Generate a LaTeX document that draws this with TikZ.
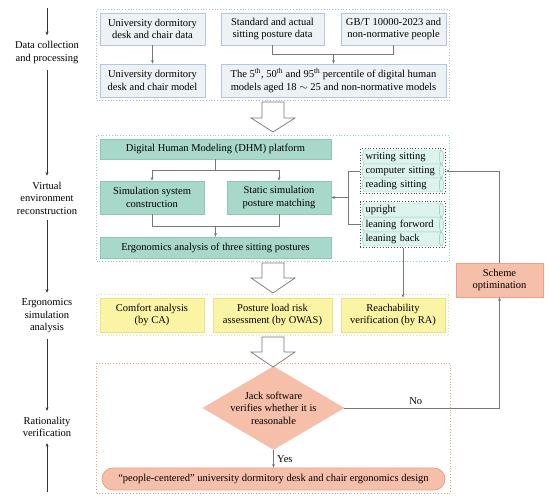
\documentclass[tikz,border=0pt]{standalone}
\usepackage{fontspec}
\setmainfont{Liberation Serif}
\usetikzlibrary{arrows.meta, shapes.geometric, fit}

\definecolor{datafill}{RGB}{237,242,245}
\definecolor{dataline}{RGB}{180,198,231}
\definecolor{datagroup}{RGB}{170,184,216}
\definecolor{tealfill}{RGB}{168,216,201}
\definecolor{tealline}{RGB}{140,200,182}
\definecolor{tealgroup}{RGB}{148,211,193}
\definecolor{itemfill}{RGB}{221,244,238}
\definecolor{itemline}{RGB}{127,199,179}
\definecolor{yellowfill}{RGB}{250,244,164}
\definecolor{yellowline}{RGB}{237,226,140}
\definecolor{salmonfill}{RGB}{245,191,170}
\definecolor{salmonline}{RGB}{237,160,133}
\definecolor{linkgray}{RGB}{120,120,120}

\tikzset{
	databox/.style={draw=dataline, fill=datafill, line width=0.8pt, align=center, inner sep=0pt},
	tealbox/.style={draw=tealline, fill=tealfill, line width=0.8pt, align=center, inner sep=0pt},
	yellowbox/.style={draw=yellowline, fill=yellowfill, line width=0.8pt, align=center, inner sep=0pt},
	salmonbox/.style={draw=salmonline, fill=salmonfill, line width=0.8pt, align=center, inner sep=0pt},
	itembox/.style={cylinder, shape border rotate=0, aspect=0.4, draw=itemline, fill=itemfill,
		minimum height=81, minimum width=14, inner sep=0.5pt, text width=72pt, align=left},
	group/.style={draw=#1, dotted, line width=0.8pt, inner sep=3pt},
	stage/.style={align=center, inner sep=6pt},
	link/.style={draw=linkgray, line width=0.8pt},
	flow/.style={link, -{Stealth[length=3.5pt, width=3pt]}},
	timeline/.style={draw=black!80, line width=0.6pt, -{Stealth[length=3.5pt, width=3pt]}}
}

\begin{document}
\begin{tikzpicture}[x=1pt, y=-1pt, font=\fontsize{10.5}{12.5}\selectfont]
	\useasboundingbox (0,0) rectangle (550,497);

	% stages on the left
	\node[stage] (stage1) at (47,52.5) {Data collection\\and processing};
	\node[stage] (stage2) at (47,198) {Virtual\\environment\\reconstruction};
	\node[stage] (stage3) at (47,316) {Ergonomics\\simulation\\analysis};
	\node[stage] (stage4) at (47,427) {Rationality\\verification};
	\coordinate (start) at (47,8);
	\coordinate (end) at (47,492);
	\draw[timeline] (start) -- (stage1);
	\foreach \from/\to in {stage1/stage2, stage2/stage3, stage3/stage4}
		\draw[timeline] (\from) -- (\to);
	\draw[timeline] (end) -- (stage4);

	% data collection
	\node[databox, minimum width=105, minimum height=32] (deskdata) at (152.5,29) {University dormitory\\desk and chair data};
	\node[databox, minimum width=103, minimum height=32] (posturedata) at (272.5,29) {Standard and actual\\sitting posture data};
	\node[databox, minimum width=105, minimum height=32] (standard) at (393.5,29) {GB/T 10000-2023 and\\non-normative people};
	\node[databox, minimum width=105, minimum height=33] (deskmodel) at (152.5,80.5) {University dormitory\\desk and chair model};
	\node[databox, minimum width=225, minimum height=33] (humanmodel) at (333.5,80.5)
		{The 5\textsuperscript{th}, 50\textsuperscript{th} and 95\textsuperscript{th} percentile of digital human\\models aged 18 $\sim$ 25 and non-normative models};
	\node[group=datagroup, fit=(deskdata)(standard)(deskmodel)(humanmodel)] (datagrp) {};

	\draw[flow] (deskdata) -- (deskmodel);
	\draw[link] (posturedata.south) -- ++(0,9) coordinate (pd) -| (standard.south);
	\draw[flow] (pd -| humanmodel.north) -- (humanmodel.north);

	% virtual environment
	\node[tealbox, minimum width=231, minimum height=20] (dhm) at (215.5,149) {Digital Human Modeling (DHM) platform};
	\node[tealbox, minimum width=104, minimum height=33] (simsys) at (152,197.5) {Simulation system\\construction};
	\node[tealbox, minimum width=104, minimum height=33] (static) at (279,197.5) {Static simulation\\posture matching};
	\node[tealbox, minimum width=231, minimum height=21] (ergo) at (215.5,247.5) {Ergonomics analysis of three sitting postures};

	\foreach \name/\y/\label in {%
		write/157/writing sitting,
		computer/171/computer sitting,
		read/185/reading sitting,
		upright/210/upright,
		forward/224.5/leaning forword,
		back/239/leaning back%
	}{
		\node[itembox] (\name) at (401.5,\y) {\label};
	}
	\node[group=black!70, inner xsep=2pt, inner ysep=1pt, fit=(write)(read)] (sitgrp) {};
	\node[group=black!70, inner xsep=2pt, inner ysep=1pt, fit=(upright)(back)] (leangrp) {};
	\node[group=tealgroup, fit=(dhm)(ergo)(sitgrp)(leangrp)] (virtgrp) {};

	\draw[flow] (dhm.south) -- ++(0,11) coordinate (dh) -| (simsys.north);
	\draw[flow] (dh) -| (static.north);
	\draw[link] (simsys.south) -- ++(0,12) coordinate (ss) -| (static.south);
	\draw[flow] (ss -| ergo.north) -- (ergo.north);
	\draw[link] (sitgrp.west) -- ++(-12,0) coordinate (sg) |- (leangrp.west);
	\draw[flow] (sg |- static.east) -- (static.east);

	% simulation analysis
	\node[yellowbox, minimum width=104, minimum height=34] (comfort) at (152,315) {Comfort analysis\\(by CA)};
	\node[yellowbox, minimum width=119, minimum height=34] (owas) at (272.5,315) {Posture load risk\\assessment (by OWAS)};
	\node[yellowbox, minimum width=104, minimum height=34] (reach) at (393,315) {Reachability\\verification (by RA)};
	\node[group=yellowline, fit=(comfort)(reach)] (anagrp) {};
	\draw[flow] (leangrp.south) -- (leangrp.south |- reach.north);

	% verification
	\node[diamond, draw=salmonfill, fill=salmonfill, minimum width=133, minimum height=78, inner sep=0pt,
		aspect=1.7, align=center] (jack) at (273.5,408) {Jack software\\verifies whether it is\\reasonable};
	\node[salmonbox, rounded corners=11pt, minimum width=343, minimum height=22] (design) at (273.5,479)
		{``people-centered'' university dormitory desk and chair ergonomics design};
	\node[group=salmonline, inner xsep=5pt, fit=(jack)(design)] (vergrp) {};
	\node[salmonbox, minimum width=87, minimum height=34] (scheme) at (499.5,280) {Scheme\\optimination};

	\draw[flow] (jack.south) -- node[right] {Yes} (design.north);
	\draw[flow] (jack.east) -| node[pos=0.23, above] {No} (scheme.south);
	\draw[flow] (scheme.north) |- (sitgrp.east);

	% big arrows between the stages
	\foreach \ytop/\stem/\head in {102/16/14, 263/15/15, 337/15/15}{
		\draw[linkgray, fill=white, line width=0.7pt] (262,\ytop) -- (284,\ytop) -- (284,\ytop+\stem)
			-- (295,\ytop+\stem) -- (273,\ytop+\stem+\head) -- (251,\ytop+\stem) -- (262,\ytop+\stem) -- cycle;
	}

\end{tikzpicture}
\end{document}
